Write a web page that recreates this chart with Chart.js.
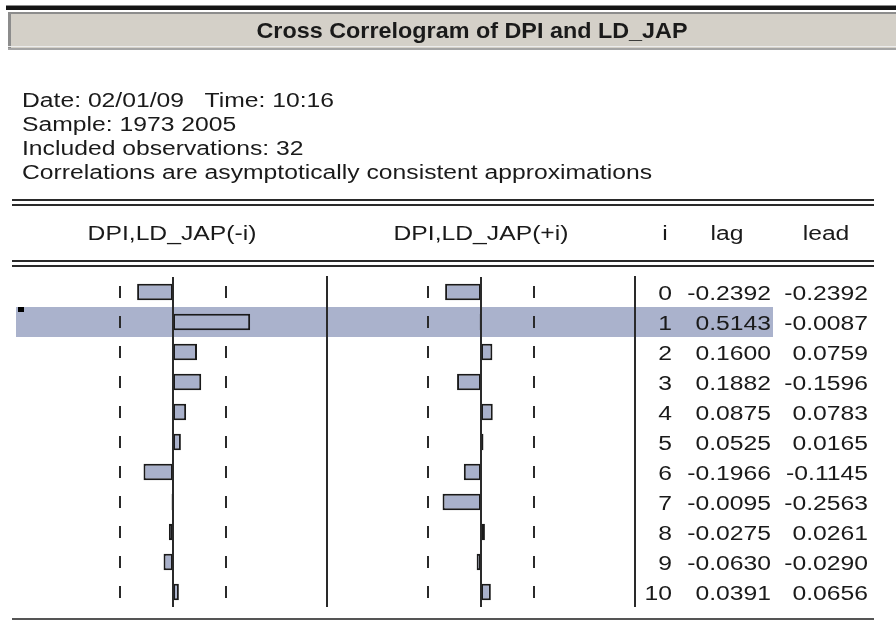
<!DOCTYPE html>
<html>
<head>
<meta charset="utf-8">
<script src="https://cdn.jsdelivr.net/npm/chart.js@4.4.1/dist/chart.umd.min.js"></script>
<style>
    html, body { margin: 0; padding: 0; background: #ffffff; }
    #wrap { position: relative; width: 896px; height: 621px; overflow: hidden; }
    canvas { position: absolute; }
</style>
</head>
<body>
<div id="wrap">
    <canvas id="bg" width="896" height="621" style="left:0;top:0"></canvas>
    <canvas id="lagChart" width="300" height="330" style="left:23px;top:277px"></canvas>
    <canvas id="leadChart" width="300" height="330" style="left:331px;top:277px"></canvas>
</div>
<script>
const titleText = 'Cross Correlogram of DPI and LD_JAP';
const infoLines = [
    'Date: 02/01/09   Time: 10:16',
    'Sample: 1973 2005',
    'Included observations: 32',
    'Correlations are asymptotically consistent approximations'
];
const headerLabels = ['DPI,LD_JAP(-i)', 'DPI,LD_JAP(+i)', 'i', 'lag', 'lead'];
const lagIndex = [0, 1, 2, 3, 4, 5, 6, 7, 8, 9, 10];
const lagValues = [-0.2392, 0.5143, 0.1600, 0.1882, 0.0875, 0.0525, -0.1966, -0.0095, -0.0275, -0.0630, 0.0391];
const leadValues = [-0.2392, -0.0087, 0.0759, -0.1596, 0.0783, 0.0165, -0.1145, -0.2563, 0.0261, -0.0290, 0.0656];
const confBand = 0.3536; // dashed bounds, +/- 2/sqrt(32)
const highlightRow = 1;

const BAR_FILL = '#A9B1CB';
const INK = '#1a1a1a';
const BODY_FONT = '20px "Liberation Sans", Arial, sans-serif';
const TITLE_FONT = 'bold 22px "Liberation Sans", Arial, sans-serif';

// row geometry shared by the table text and the chart canvases
const ROW_TOP = 277;
const ROW_H = 30;

function drawText(ctx, text, x, y, align, sx) {
    ctx.save();
    ctx.translate(x, y);
    ctx.scale(sx, 1);
    ctx.textAlign = align;
    ctx.fillText(text, 0, 0);
    ctx.restore();
}

function hline(ctx, x1, x2, y, w, color) {
    ctx.fillStyle = color;
    ctx.fillRect(x1, y, x2 - x1, w);
}

function drawBackground() {
    const ctx = document.getElementById('bg').getContext('2d');
    ctx.fillStyle = '#ffffff';
    ctx.fillRect(0, 0, 896, 621);

    // title bar
    hline(ctx, 6, 896, 5, 1, '#8a8a8a');
    hline(ctx, 6, 896, 6, 4, '#141414');
    ctx.fillStyle = '#D4D0C8';
    ctx.fillRect(8, 12, 888, 37);
    hline(ctx, 8, 896, 12, 2, '#8c8c8c');
    ctx.fillStyle = '#8c8c8c';
    ctx.fillRect(8, 12, 3, 37);
    hline(ctx, 8, 896, 46, 1, '#ececec');
    hline(ctx, 8, 896, 48, 2, '#a4a4a4');

    ctx.fillStyle = INK;
    ctx.font = TITLE_FONT;
    const tsx = 431 / ctx.measureText(titleText).width;
    drawText(ctx, titleText, 472, 38, 'center', tsx);

    ctx.font = BODY_FONT;
    const sx = 630 / ctx.measureText(infoLines[3]).width;
    infoLines.forEach((line, i) => drawText(ctx, line, 22, 107 + i * 24, 'left', sx));

    // header rules
    hline(ctx, 12, 874, 199, 2, '#2a2a2a');
    hline(ctx, 12, 874, 204, 2, '#2a2a2a');
    hline(ctx, 12, 874, 260, 2, '#2a2a2a');
    hline(ctx, 12, 874, 265, 2, '#2a2a2a');
    hline(ctx, 12, 874, 618, 2, '#555555');

    ctx.fillStyle = INK;
    const headX = [172, 481, 665, 727, 826];
    headerLabels.forEach((h, i) => drawText(ctx, h, headX[i], 240, 'center', sx));

    // selected row
    ctx.fillStyle = '#AAB2CC';
    ctx.fillRect(16, ROW_TOP + highlightRow * ROW_H, 757, ROW_H);
    ctx.fillStyle = '#000000';
    ctx.fillRect(18, ROW_TOP + highlightRow * ROW_H, 6, 5);

    // column separators
    ctx.fillStyle = '#2a2a2a';
    ctx.fillRect(326, 276, 2, 331);
    ctx.fillRect(634, 276, 2, 331);

    // table values
    ctx.fillStyle = INK;
    lagIndex.forEach((k, i) => {
        const y = ROW_TOP + i * ROW_H + ROW_H / 2 + 7.5;
        drawText(ctx, String(k), 672, y, 'right', sx);
        drawText(ctx, lagValues[i].toFixed(4), 771, y, 'right', sx);
        drawText(ctx, leadValues[i].toFixed(4), 868, y, 'right', sx);
    });
}

const bandPlugin = {
    id: 'band',
    // dashed bounds sit under the bars
    beforeDatasetsDraw(chart) {
        const { ctx, scales: { x, y } } = chart;
        ctx.save();
        ctx.strokeStyle = '#2a2a2a';
        ctx.lineWidth = 2;
        [-confBand, confBand].forEach(v => {
            const px = Math.round(x.getPixelForValue(v));
            lagIndex.forEach((_, i) => {
                const py = y.getPixelForValue(i);
                ctx.beginPath();
                ctx.moveTo(px, py - 6);
                ctx.lineTo(px, py + 6);
                ctx.stroke();
            });
        });
        ctx.restore();
    },
    // zero line on top
    afterDatasetsDraw(chart) {
        const { ctx, chartArea, scales: { x } } = chart;
        ctx.save();
        ctx.strokeStyle = '#2a2a2a';
        ctx.lineWidth = 2;
        const x0 = Math.round(x.getPixelForValue(0));
        ctx.beginPath();
        ctx.moveTo(x0, chartArea.top);
        ctx.lineTo(x0, chartArea.bottom);
        ctx.stroke();
        ctx.restore();
    }
};

function makeCorrChart(canvasId, values) {
    const el = document.getElementById(canvasId);
    return new Chart(el, {
        type: 'bar',
        data: {
            labels: lagIndex.map(String),
            datasets: [{
                data: values,
                backgroundColor: BAR_FILL,
                borderColor: INK,
                borderWidth: 2,
                borderSkipped: false,
                barPercentage: 0.55,
                categoryPercentage: 1
            }]
        },
        options: {
            indexAxis: 'y',
            responsive: false,
            animation: false,
            events: [],
            layout: { padding: 0 },
            plugins: {
                legend: { display: false },
                tooltip: { enabled: false }
            },
            scales: {
                x: { min: -1, max: 1, display: false },
                y: { display: false, offset: true }
            }
        },
        plugins: [bandPlugin]
    });
}

drawBackground();
makeCorrChart('lagChart', lagValues);
makeCorrChart('leadChart', leadValues);
</script>
</body>
</html>
